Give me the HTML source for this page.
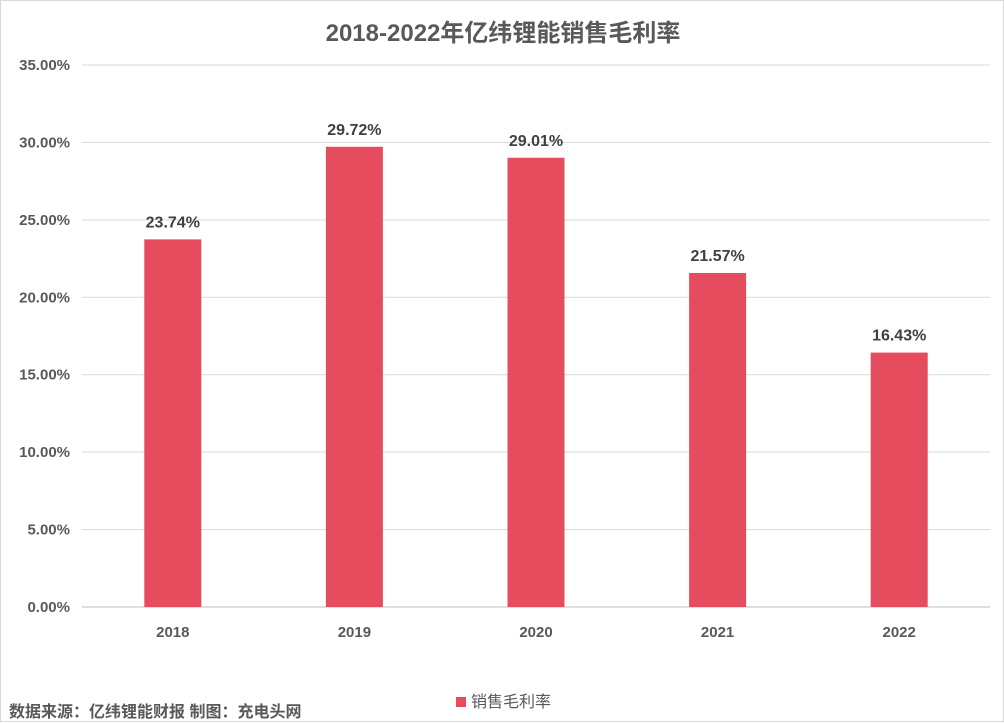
<!DOCTYPE html>
<html><head><meta charset="utf-8"><style>
body{margin:0;background:#fff;}
#wrap{position:relative;width:1004px;height:722px;border:1px solid #d9d9d9;box-sizing:border-box;font-family:"Liberation Sans","Noto Sans CJK SC",sans-serif;}
.t{position:absolute;color:#595959;}
</style></head><body>
<div id="wrap">
<div class="t" style="left:0;width:1004px;top:12px;text-align:center;font-size:24px;font-weight:bold;">2018-2022年亿纬锂能销售毛利率</div>
<svg id="chart" width="1004" height="722" style="position:absolute;left:0;top:0"></svg>
<div class="t" style="left:8px;top:697px;font-size:16px;font-weight:bold;">数据来源：亿纬锂能财报 制图：充电头网</div>
<div class="t" style="left:455px;top:687px;font-size:16px;"><span style="display:inline-block;width:10px;height:10px;background:#e54c5e;margin-right:5px;"></span>销售毛利率</div>
</div>
<script>
const categories=["2018","2019","2020","2021","2022"];
const values=[23.74,29.72,29.01,21.57,16.43];
const ticks=[0,5,10,15,20,25,30,35];
const svg=document.getElementById('chart');
const NS='http://www.w3.org/2000/svg';
const x0=81,x1=989,y0=606,yTop=64,ymax=35;
const y=v=>y0-(v/ymax)*(y0-yTop);
const step=(x1-x0)/categories.length;
const xc=i=>x0+step*(i+0.5);
function mk(t,a){const e=document.createElementNS(NS,t);for(const k in a)e.setAttribute(k,a[k]);svg.appendChild(e);return e;}
ticks.forEach(t=>{
 const l=mk('line',{x1:x0,x2:x1,y1:y(t),y2:y(t),stroke:t===0?'#bfbfbf':'#d9d9d9','stroke-width':1});
 
 
 const tx=mk('text',{x:69,y:y(t)+5,'text-anchor':'end','font-size':15,'font-weight':'bold',fill:'#595959','font-family':'Liberation Sans, sans-serif'});
 tx.textContent=t.toFixed(2)+'%';
 
 
});
categories.forEach((c,i)=>{
 const bw=57;
 const r=mk('rect',{x:xc(i)-bw/2,y:y(values[i]),width:bw,height:y0-y(values[i]),fill:'#e54c5e'});
 
 
 const v=mk('text',{x:xc(i),y:y(values[i])-12,'text-anchor':'middle','font-size':16,'font-weight':'bold',fill:'#404040','font-family':'Liberation Sans, sans-serif'});
 v.textContent=values[i].toFixed(2)+'%';
 
 
 const xl=mk('text',{x:xc(i),y:636,'text-anchor':'middle','font-size':15,'font-weight':'bold',fill:'#595959','font-family':'Liberation Sans, sans-serif'});
 xl.textContent=c;
 
 
});
</script>
</body></html>
